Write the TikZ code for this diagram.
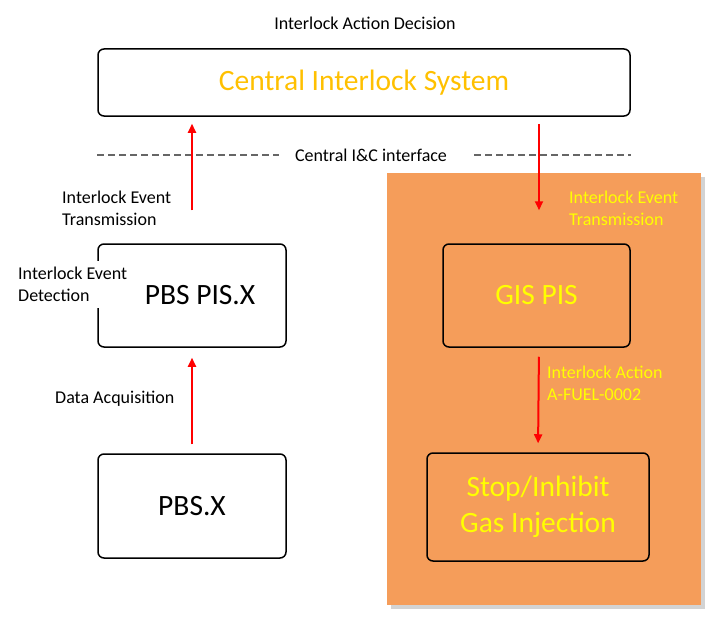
\documentclass[tikz,border=0pt]{standalone}
\usepackage{fontspec}
\setmainfont{Carlito}
\usetikzlibrary{arrows.meta,shadows}
\definecolor{panelorange}{HTML}{F59D5A}
\definecolor{cisgold}{HTML}{FFC000}
\definecolor{gisyellow}{HTML}{FFFF00}

\begin{document}
\begin{tikzpicture}
[x=1pt,y=-1pt%
,every node/.style={font=\fontsize{18}{22}\selectfont}%
,block/.style={draw=black,%
	line width=1.5pt,%
	rounded corners=6pt,%
	align=center,%
	font=\fontsize{29.5}{36}\selectfont}%
,link/.style={draw=red,line width=2pt,-{Triangle[length=9pt,width=8pt]}}%
,note/.style={align=left,anchor=west,inner sep=0pt}%
,bus/.style={draw=black!60,line width=1.3pt,dash pattern=on 7pt off 4pt}]
\useasboundingbox (0,0) rectangle (728,642);
% GIS panel
\fill[panelorange,drop shadow={shadow xshift=4pt,shadow yshift=-4pt,opacity=.35}]
	(387,173) rectangle (701,605);
% boxes
\node[block,minimum width=532pt,minimum height=67pt,text=cisgold] (cis) at (364,82.5) {Central Interlock System};
\node[block,minimum width=188pt,minimum height=103pt] (pbspis) at (192,295.5) {\hspace*{16pt}PBS PIS.X};
\node[block,minimum width=188pt,minimum height=104pt] (pbsx) at (192,506) {PBS.X};
\node[block,minimum width=187pt,minimum height=103pt,text=gisyellow] (gis) at (536.5,295.5) {GIS PIS};
\node[block,minimum width=222pt,minimum height=108pt,text=gisyellow] (stop) at (538,507) {Stop/Inhibit\\Gas Injection};
% labels
\node (decision) at (365,23) {Interlock Action Decision};
\node[inner xsep=16pt] (bus) at (371,155) {Central I\&C interface};
\node[note] (txl) at (62,208) {Interlock Event\\Transmission};
\node[note,fill=white,inner ysep=6pt,inner xsep=0pt] (detect) at (18,284.5) {Interlock Event\\Detection};
\node[note] (acq) at (55,399) {Data Acquisition};
\node[note,text=gisyellow] (txr) at (569,208.5) {Interlock Event\\Transmission};
\node[note,text=gisyellow] (act) at (547,383) {Interlock Action\\A-FUEL-0002};
% interface line
\draw[bus] (cis.west |- bus) -- (bus.west);
\draw[bus] (bus.east) ++(11pt,0) -- (cis.east |- bus);
% connectors
\draw[link,shorten <=33pt,shorten >=7pt] (pbspis.north) -- (cis.south -| pbspis);
\draw[link,shorten <=7pt,shorten >=33pt] (cis.south -| gis.north) ++(2.5,0) -- ([xshift=2.5pt]gis.north);
\draw[link,shorten <=9pt,shorten >=10pt] (pbsx.north) -- (pbspis.south);
\draw[link,shorten <=9pt,shorten >=9pt] ([xshift=2.5pt]gis.south) -- (stop.north);
\end{tikzpicture}
\end{document}
